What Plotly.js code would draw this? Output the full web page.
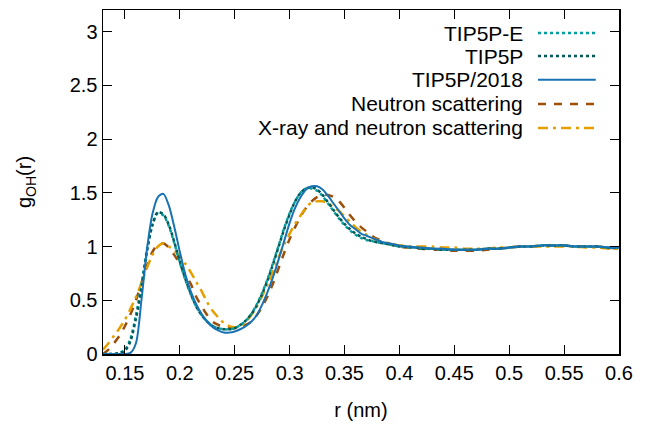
<!DOCTYPE html>
<html>
<head>
<meta charset="utf-8">
<script src="https://cdn.plot.ly/plotly-3.0.1.min.js"></script>
<style>
html,body{margin:0;padding:0;background:#fff;}
#chart{width:650px;height:429px;}
</style>
</head>
<body>
<div id="chart"></div>
<script>
// r grid (nm)
const r = [0.130,0.135,0.140,0.145,0.150,0.155,0.160,0.165,0.170,0.175,0.180,0.185,0.190,0.195,0.200,0.205,0.210,0.215,0.220,0.225,0.230,0.235,0.240,0.245,0.250,0.255,0.260,0.265,0.270,0.275,0.280,0.285,0.290,0.295,0.300,0.305,0.310,0.315,0.320,0.325,0.330,0.335,0.340,0.345,0.350,0.355,0.360,0.365,0.370,0.375,0.380,0.385,0.390,0.395,0.400,0.405,0.410,0.415,0.420,0.43,0.44,0.45,0.46,0.47,0.48,0.49,0.50,0.51,0.52,0.53,0.54,0.55,0.56,0.57,0.58,0.59,0.60];

const tip5pE = [0,0,0,0.01,0.04,0.14,0.36,0.64,0.97,1.2,1.31,1.29,1.19,1.03,0.85,0.69,0.55,0.44,0.36,0.3,0.26,0.24,0.23,0.23,0.24,0.27,0.31,0.37,0.46,0.57,0.7,0.85,1.01,1.17,1.31,1.42,1.5,1.54,1.54,1.52,1.47,1.4,1.33,1.26,1.2,1.15,1.11,1.08,1.06,1.05,1.04,1.03,1.02,1.01,1.0,1.0,0.99,0.99,0.98,0.98,0.97,0.97,0.97,0.97,0.98,0.98,0.99,1.0,1.0,1.01,1.01,1.01,1.0,1.0,1.0,0.99,0.99];

const tip5p = [0,0,0,0.01,0.03,0.12,0.33,0.6,0.95,1.2,1.32,1.3,1.2,1.04,0.86,0.7,0.56,0.44,0.36,0.3,0.26,0.24,0.23,0.23,0.24,0.27,0.31,0.37,0.45,0.56,0.69,0.84,1.0,1.16,1.3,1.42,1.5,1.54,1.55,1.53,1.48,1.41,1.34,1.27,1.21,1.16,1.12,1.09,1.07,1.05,1.04,1.03,1.02,1.01,1.0,1.0,0.99,0.99,0.98,0.98,0.97,0.97,0.97,0.97,0.98,0.98,0.99,1.0,1.0,1.01,1.01,1.01,1.0,1.0,1.0,0.99,0.99];

const tip5p2018 = [0,0,0,0,0,0.01,0.1,0.5,0.97,1.3,1.46,1.49,1.38,1.18,0.95,0.74,0.58,0.46,0.37,0.3,0.25,0.22,0.2,0.2,0.21,0.23,0.26,0.3,0.36,0.46,0.58,0.72,0.88,1.05,1.22,1.36,1.46,1.53,1.56,1.56,1.53,1.47,1.4,1.33,1.26,1.2,1.16,1.12,1.1,1.08,1.06,1.04,1.03,1.02,1.01,1.0,1.0,0.99,0.99,0.98,0.98,0.97,0.97,0.97,0.98,0.98,0.99,1.0,1.0,1.01,1.01,1.01,1.0,1.0,1.0,0.99,0.99];

const neutron = [0.0,0.04,0.1,0.17,0.26,0.37,0.5,0.66,0.82,0.95,1.02,1.03,0.99,0.92,0.84,0.74,0.65,0.53,0.44,0.36,0.3,0.27,0.25,0.24,0.24,0.25,0.27,0.3,0.36,0.44,0.54,0.66,0.8,0.94,1.07,1.18,1.28,1.36,1.42,1.46,1.48,1.48,1.46,1.42,1.36,1.29,1.23,1.18,1.14,1.1,1.07,1.05,1.03,1.01,1.0,0.99,0.99,0.98,0.98,0.97,0.97,0.96,0.96,0.96,0.97,0.98,0.99,1.0,1.0,1.01,1.01,1.01,1.0,1.0,1.0,0.99,0.98];

const xrayNeutron = [0.04,0.1,0.17,0.24,0.32,0.42,0.53,0.66,0.8,0.92,1.0,1.03,1.0,0.96,0.91,0.84,0.76,0.67,0.58,0.48,0.4,0.34,0.29,0.26,0.25,0.26,0.3,0.36,0.44,0.54,0.65,0.77,0.9,1.02,1.12,1.21,1.29,1.36,1.41,1.42,1.42,1.4,1.37,1.33,1.28,1.23,1.18,1.14,1.11,1.08,1.06,1.04,1.03,1.02,1.01,1.01,1.0,1.0,1.0,1.0,0.99,0.99,0.98,0.98,0.98,0.99,0.99,1.0,1.0,1.0,1.0,1.0,1.0,0.99,0.99,0.98,0.98];

const seriesNames = ["TIP5P-E","TIP5P","TIP5P/2018","Neutron scattering","X-ray and neutron scattering"];
const xTickVals = [0.15,0.2,0.25,0.3,0.35,0.4,0.45,0.5,0.55,0.6];
const xTickText = ["0.15","0.2","0.25","0.3","0.35","0.4","0.45","0.5","0.55","0.6"];
const yTickVals = [0,0.5,1,1.5,2,2.5,3];
const yTickText = ["0","0.5","1","1.5","2","2.5","3"];

const seriesData = [tip5pE, tip5p, tip5p2018, neutron, xrayNeutron];
const styles = [
  {color:"#009e9e", width:2.5, dash:"3px,3px"},
  {color:"#005a5a", width:2.5, dash:"3px,3px"},
  {color:"#1872b4", width:2, dash:"solid"},
  {color:"#9c4f0a", width:2.5, dash:"8px,8px"},
  {color:"#e69f00", width:2.5, dash:"10px,5px,3px,5px"}
];

const FONT = "Liberation Sans, Arial, sans-serif";
// draw order: data sets below models
const order = [3,4,0,1,2];
const traces = order.map(i => ({
  x: r, y: seriesData[i], name: seriesNames[i], type: "scatter", mode: "lines",
  line: {color: styles[i].color, width: styles[i].width, dash: styles[i].dash, shape: "spline", smoothing: 0.8},
  showlegend: false, hoverinfo: "skip"
}));

// legend drawn as annotations (text left of sample line, gnuplot style)
const legY = [0.933,0.866,0.797,0.727,0.657];
const annotations = [];
const shapes = [];
seriesNames.forEach((n,i) => {
  annotations.push({xref:"paper", yref:"paper", x:0.818, y:legY[i], xanchor:"right", yanchor:"middle",
    text:n, showarrow:false, font:{family:FONT, size:21, color:"#000"}});
  shapes.push({type:"line", xref:"paper", yref:"paper", x0:0.843, x1:0.955, y0:legY[i], y1:legY[i],
    line:{color:styles[i].color, width:styles[i].width, dash:styles[i].dash}});
});

const layout = {
  width:650, height:429,
  margin:{l:103, r:31, t:10, b:75},
  paper_bgcolor:"#fff", plot_bgcolor:"#fff",
  font:{family:FONT, size:20, color:"#000"},
  xaxis:{range:[0.13,0.6], tickmode:"array", tickvals:xTickVals, ticktext:xTickText,
    ticks:"inside", ticklen:9, tickwidth:1, tickcolor:"#000",
    showline:true, linecolor:"#000", linewidth:1.5, mirror:"ticks", showgrid:false, zeroline:false,
    tickfont:{family:FONT, size:20}, title:{text:"r (nm)", font:{family:FONT, size:20}, standoff:20}},
  yaxis:{range:[0,3.2], tickmode:"array", tickvals:yTickVals, ticktext:yTickText,
    ticks:"inside", ticklen:9, tickwidth:1, tickcolor:"#000",
    showline:true, linecolor:"#000", linewidth:1.5, mirror:"ticks", showgrid:false, zeroline:false,
    tickfont:{family:FONT, size:20}, title:{text:"g<sub>OH</sub>(r)", font:{family:FONT, size:20}, standoff:32}},
  annotations: annotations,
  shapes: shapes,
  showlegend:false
};

Plotly.newPlot("chart", traces, layout, {staticPlot:true, displayModeBar:false});
</script>
</body>
</html>
